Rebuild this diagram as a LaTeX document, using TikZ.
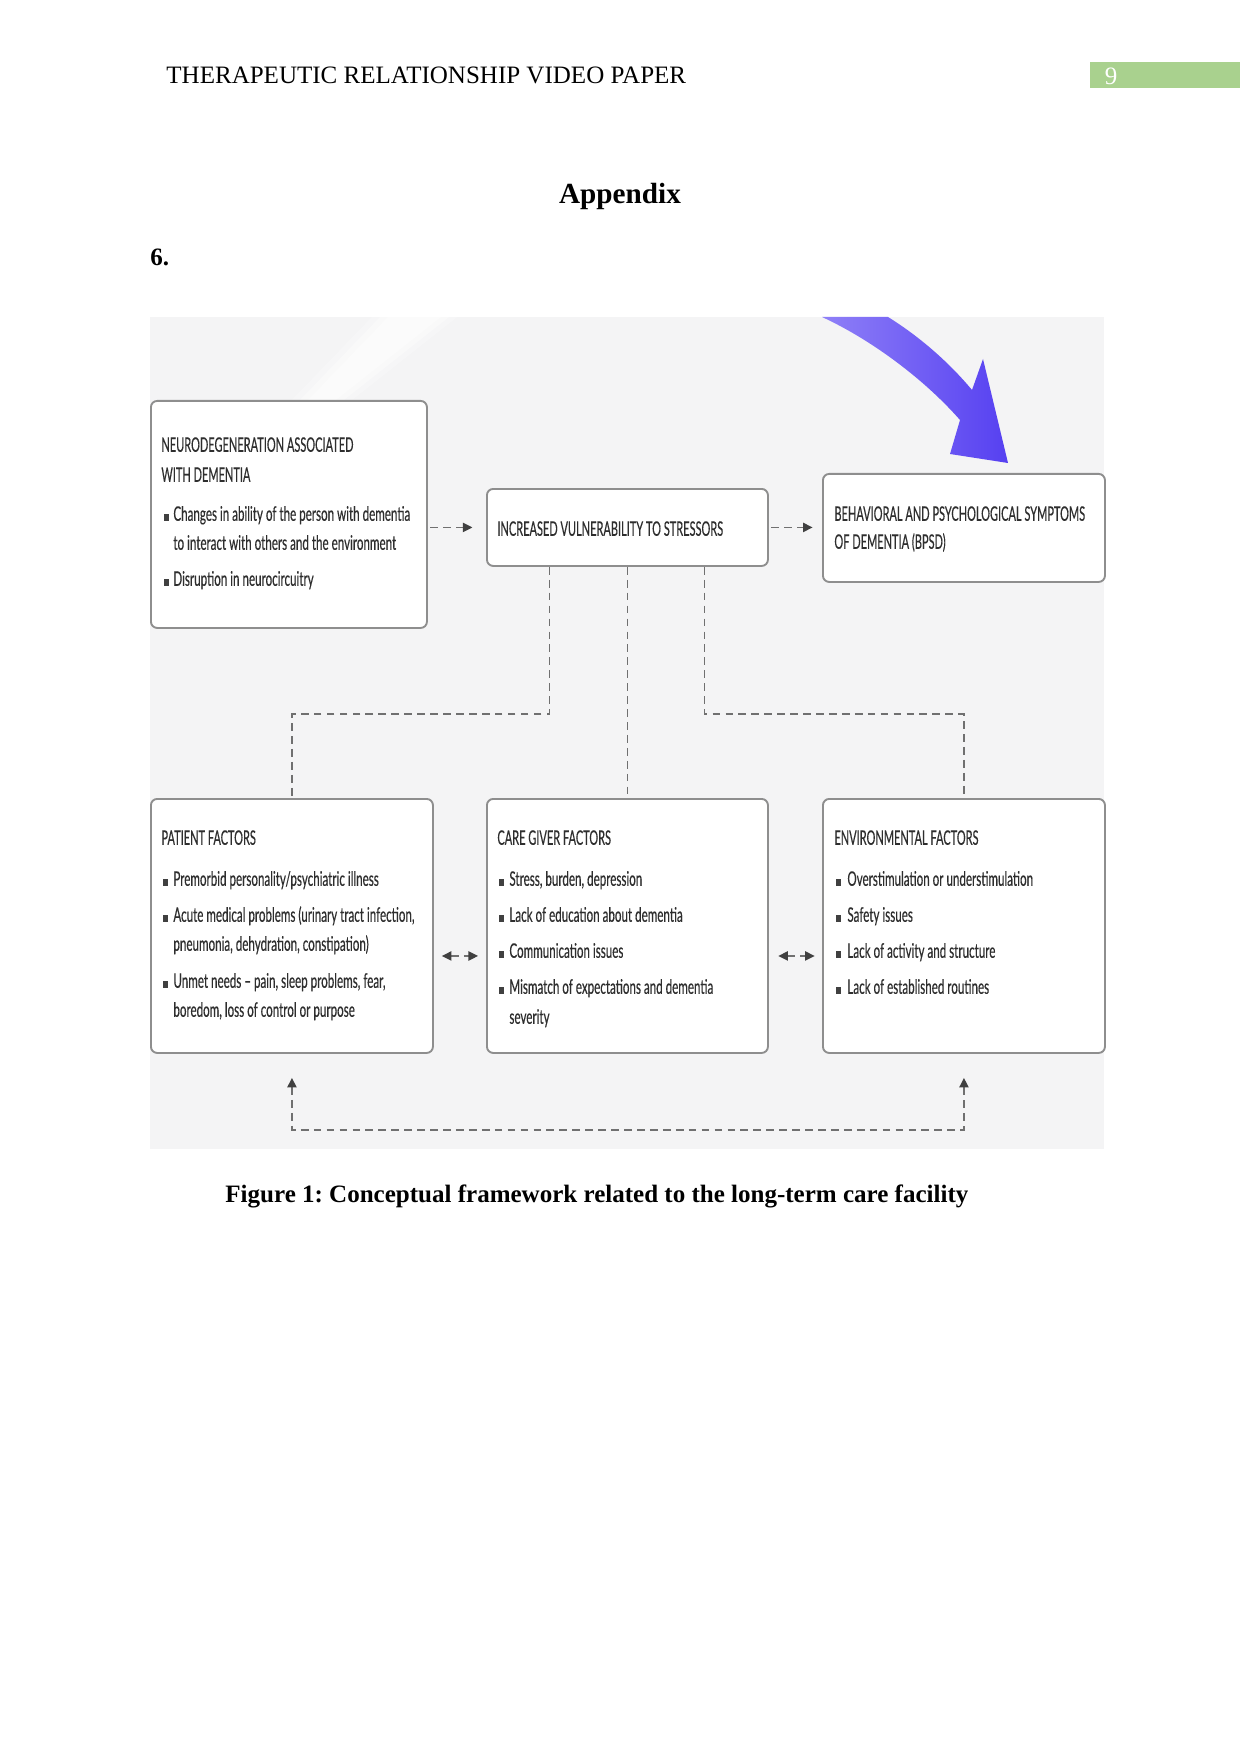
\documentclass[tikz,border=0pt]{standalone}
\usepackage{fontspec}
\setmainfont{Liberation Serif}
\newfontfamily\figfont[FakeStretch=0.58,FakeBold=0.35]{Lato}
\newfontfamily\figcaps[FakeStretch=0.55,FakeBold=0.35]{Lato}
\usetikzlibrary{arrows.meta,calc}
\definecolor{figbg}{HTML}{F4F4F5}
\definecolor{boxline}{HTML}{8E8E8E}
\definecolor{dashc}{HTML}{707070}
\definecolor{tipc}{HTML}{404040}
\definecolor{txtc}{HTML}{2E2E2E}
\definecolor{hdrgreen}{HTML}{A9D18E}
\definecolor{purpA}{HTML}{8F80F7}
\definecolor{purpB}{HTML}{5640F1}
\tikzset{
  fbox/.style={draw=boxline, line width=0.9pt, fill=white, rounded corners=3pt,
    inner sep=0pt, anchor=north west},
  ftxt/.style={font=\figfont\fontsize{9.6}{12}\selectfont, text=txtc, inner sep=0pt, anchor=mid west},
  fcap/.style={font=\figcaps\fontsize{9.6}{12}\selectfont, text=txtc, inner sep=0pt, anchor=mid west},
  dl/.style={draw=dashc, line width=0.8pt, dash pattern=on 3.7pt off 2.5pt},
  tip/.style={-{Triangle[length=4.6pt,width=4.4pt,color=tipc]}},
  tips/.style={{Triangle[length=4.6pt,width=4.4pt,color=tipc]}-{Triangle[length=4.6pt,width=4.4pt,color=tipc]}},
}
\newcommand\fl[4]{\node[ftxt] (#1) at (#2,#3+4) {#4};}
\newcommand\fh[4]{\node[fcap] (#1) at (#2,#3+4) {#4};}
\newcommand\fbul[2]{\fill[tipc] (#1,#2+2) rectangle ++(5,7);}
\begin{document}
\frenchspacing
\begin{tikzpicture}[x=0.4795pt,y=-0.4795pt]
\useasboundingbox (0,0) rectangle (1241,1754);
\fill[white] (0,0) rectangle (1241,1754);
% header
\node[font=\fontsize{12}{14}\selectfont, anchor=mid west, inner sep=0pt] (hdr) at (166,79) {THERAPEUTIC RELATIONSHIP VIDEO PAPER};
\node[fill=hdrgreen, anchor=north west, minimum width=150*0.4795pt, minimum height=26*0.4795pt, inner sep=0pt] (pgbox) at (1090,62) {};
\node[font=\fontsize{12}{14}\selectfont, text=white, inner sep=0pt] (pgnum) at (1111,76) {9};
\node[font=\bfseries\fontsize{14}{16}\selectfont, inner sep=0pt] (appx) at (620,196) {Appendix};
\node[font=\bfseries\fontsize{12}{14}\selectfont, anchor=mid west, inner sep=0pt] (six) at (150,261) {6.};
% figure background
\fill[figbg] (150,317) rectangle (1104,1149);
% faint streak (soft)
\fill[white, opacity=0.25] (292,400) -- (352,400) -- (457,317) -- (372,317) -- cycle;
\fill[white, opacity=0.35] (300,400) -- (344,400) -- (449,317) -- (380,317) -- cycle;
\fill[white, opacity=0.35] (308,400) -- (336,400) -- (441,317) -- (388,317) -- cycle;
% purple arrow
\shade[left color=purpA, right color=purpB]
  (822,317) .. controls (872,340) and (925,380) .. (960,420)
  -- (950,454) -- (1008,463) -- (983,359) -- (972,390)
  .. controls (947,360) and (917,335) .. (888,317) -- cycle;
% boxes
\node[fbox, minimum width=276*0.4795pt, minimum height=227*0.4795pt] (b1) at (150,400) {};
\node[fbox, minimum width=281*0.4795pt, minimum height=77*0.4795pt] (b2) at (486,488) {};
\node[fbox, minimum width=282*0.4795pt, minimum height=108*0.4795pt] (b3) at (822,473) {};
\node[fbox, minimum width=282*0.4795pt, minimum height=254*0.4795pt] (pf) at (150,798) {};
\node[fbox, minimum width=281*0.4795pt, minimum height=254*0.4795pt] (cf) at (486,798) {};
\node[fbox, minimum width=282*0.4795pt, minimum height=254*0.4795pt] (ef) at (822,798) {};
% box 1 text
\fh{t1a}{161}{443}{NEURODEGENERATION ASSOCIATED}
\fh{t1b}{161}{473}{WITH DEMENTIA}
\fbul{164}{512}\fl{t1c}{173}{512}{Changes in ability of the person with dementia}
\fl{t1d}{173}{541}{to interact with others and the environment}
\fbul{164}{577}\fl{t1e}{173}{577}{Disruption in neurocircuitry}
% box 2
\fh{t2}{497}{527}{INCREASED VULNERABILITY TO STRESSORS}
% box 3
\fh{t3a}{834}{512}{BEHAVIORAL AND PSYCHOLOGICAL SYMPTOMS}
\fh{t3b}{834}{540}{OF DEMENTIA (BPSD)}
% patient
\fh{p0}{161}{836}{PATIENT FACTORS}
\fbul{163}{877}\fl{p1}{173}{877}{Premorbid personality/psychiatric illness}
\fbul{163}{913}\fl{p2}{173}{913}{Acute medical problems (urinary tract infection,}
\fl{p3}{173}{942}{pneumonia, dehydration, constipation)}
\fbul{163}{979}\fl{p4}{173}{979}{Unmet needs – pain, sleep problems, fear,}
\fl{p5}{173}{1008}{boredom, loss of control or purpose}
% caregiver
\fh{c0}{497}{836}{CARE GIVER FACTORS}
\fbul{499}{877}\fl{c1}{509}{877}{Stress, burden, depression}
\fbul{499}{913}\fl{c2}{509}{913}{Lack of education about dementia}
\fbul{499}{949}\fl{c3}{509}{949}{Communication issues}
\fbul{499}{985}\fl{c4}{509}{985}{Mismatch of expectations and dementia}
\fl{c5}{509}{1015}{severity}
% environment
\fh{e0}{834}{836}{ENVIRONMENTAL FACTORS}
\fbul{836}{877}\fl{e1}{847}{877}{Overstimulation or understimulation}
\fbul{836}{913}\fl{e2}{847}{913}{Safety issues}
\fbul{836}{949}\fl{e3}{847}{949}{Lack of activity and structure}
\fbul{836}{985}\fl{e4}{847}{985}{Lack of established routines}
% connectors
\draw[dl, tip, shorten <=1.2pt, shorten >=6.5pt] (b1.east |- b2.west) -- (b2.west);
\draw[dl, tip, shorten <=1.2pt, shorten >=4.5pt] (b2.east) -- (b3.west |- b2.east);
\draw[dl] ($(b2.south)+(-78,0)$) -- ++(0,147) -| (pf.north);
\draw[dl] (b2.south) -- (cf.north);
\draw[dl] ($(b2.south)+(77,0)$) -- ++(0,147) -| (ef.north);
\draw[dl, tips, shorten <=3.8pt, shorten >=3.8pt] ([yshift=-14.4pt]pf.east) -- ([yshift=-14.4pt]cf.west |- pf.east);
\draw[dl, tips, shorten <=4.5pt, shorten >=3.5pt] ([yshift=-14.4pt]cf.east) -- ([yshift=-14.4pt]ef.west |- cf.east);
\draw[dl, tips, shorten <=11.5pt, shorten >=11.5pt] (pf.south) -- ++(0,76) -| (ef.south);
% caption
\node[font=\bfseries\fontsize{12}{14}\selectfont, anchor=mid west, inner sep=0pt] (cap) at (225,1198) {Figure 1: Conceptual framework related to the long-term care facility};
\end{tikzpicture}
\end{document}
